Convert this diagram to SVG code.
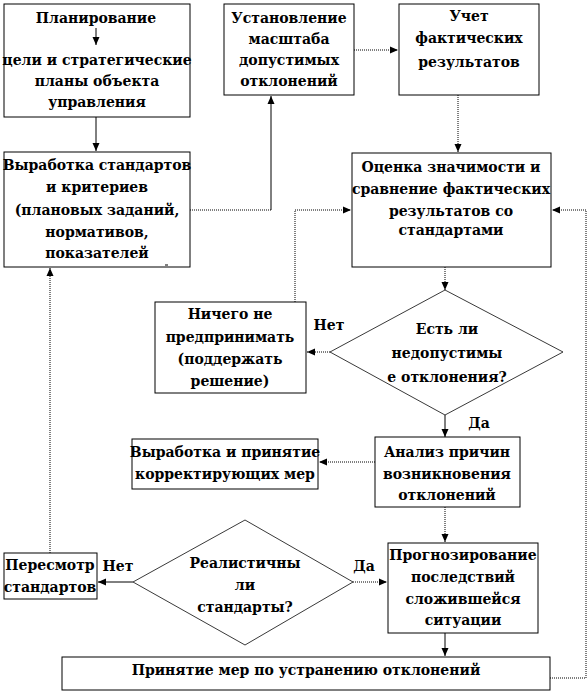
<svg xmlns="http://www.w3.org/2000/svg" width="587" height="694" viewBox="0 0 587 694">
<style>
.box{fill:#fff;stroke:#000;stroke-width:1}
.dia{fill:#fff;stroke:#222;stroke-width:0.9}
.t{font-family:"DejaVu Serif",serif;font-weight:bold;font-size:14px;fill:#000;text-anchor:middle}
.c{fill:none;stroke:#000;stroke-width:1}
.d{stroke-dasharray:1,1}
</style>
<defs>
<marker id="ah" viewBox="0 0 8 8" refX="8" refY="4" markerWidth="8" markerHeight="8" markerUnits="userSpaceOnUse" orient="auto">
<path d="M0,0.5 L8,4 L0,7.5 Z" fill="#000"/>
</marker>
</defs>
<rect width="587" height="694" fill="#fff"/>

<g id="connectors">
<path class="c" d="M96,117 V151" marker-end="url(#ah)"/>
<path class="c d" d="M190,210 H271"/>
<path class="c" d="M271,210 V96" marker-end="url(#ah)"/>
<path class="c d" d="M354,50 H398" marker-end="url(#ah)"/>
<path class="c d" d="M458,95 V152" marker-end="url(#ah)"/>
<path class="c d" d="M445,267 V290" marker-end="url(#ah)"/>
<path class="c d" d="M330,352 H307" marker-end="url(#ah)"/>
<path class="c d" d="M295,302 V210 H351" marker-end="url(#ah)"/>
<path class="c" d="M445,415 V437" marker-end="url(#ah)"/>
<path class="c d" d="M375,462 H319" marker-end="url(#ah)"/>
<path class="c d" d="M445,507 V542" marker-end="url(#ah)"/>
<path class="c" d="M133,582 H98" marker-end="url(#ah)"/>
<path class="c d" d="M50,553 V268" marker-end="url(#ah)"/>
<path class="c d" d="M353,582 H387" marker-end="url(#ah)"/>
<path class="c" d="M445,633 V656" marker-end="url(#ah)"/>
<path class="c d" d="M550,678 H586 V210 H552" marker-end="url(#ah)"/>
</g>

<g id="n-plan">
<rect class="box" x="4" y="4" width="186" height="113"/>
<text class="t" x="96" y="23">Планирование</text>
<path class="c" d="M96,28 V45" marker-end="url(#ah)"/>
<text class="t" x="97" y="65">цели и стратегические</text>
<text class="t" x="97" y="86">планы объекта</text>
<text class="t" x="97" y="107">управления</text>
</g>

<g id="n-standards">
<rect class="box" x="4" y="152" width="186" height="115"/>
<text class="t" x="97" y="170">Выработка стандартов</text>
<text class="t" x="97" y="192">и критериев</text>
<text class="t" x="97" y="215">(плановых заданий,</text>
<text class="t" x="97" y="237">нормативов,</text>
<text class="t" x="97" y="258">показателей</text>
<path d="M165,265 H168" stroke="#000" stroke-width="1"/>
</g>

<g id="n-scale">
<rect class="box" x="224" y="4" width="130" height="91"/>
<text class="t" x="289" y="23">Установление</text>
<text class="t" x="289" y="44">масштаба</text>
<text class="t" x="289" y="65">допустимых</text>
<text class="t" x="289" y="86">отклонений</text>
</g>

<g id="n-actual">
<rect class="box" x="399" y="4" width="140" height="91"/>
<text class="t" x="469" y="21">Учет</text>
<text class="t" x="469" y="43">фактических</text>
<text class="t" x="469" y="67">результатов</text>
</g>

<g id="n-evaluate">
<rect class="box" x="352" y="153" width="199" height="114"/>
<text class="t" x="451" y="172">Оценка значимости и</text>
<text class="t" x="451" y="194">сравнение фактических</text>
<text class="t" x="451" y="216">результатов со</text>
<text class="t" x="451" y="235">стандартами</text>
</g>

<g id="n-diamond1">
<polygon class="dia" points="445,290 563,352 445,415 330,352"/>
<text class="t" x="447" y="334">Есть ли</text>
<text class="t" x="447" y="358">недопустимы</text>
<text class="t" x="447" y="382">е отклонения?</text>
</g>

<g id="n-nothing">
<rect class="box" x="155" y="302" width="151" height="91"/>
<text class="t" x="230" y="319">Ничего не</text>
<text class="t" x="230" y="342">предпринимать</text>
<text class="t" x="230" y="364">(поддержать</text>
<text class="t" x="230" y="386">решение)</text>
</g>

<text class="t" x="329" y="330">Нет</text>
<text class="t" x="479" y="428">Да</text>

<g id="n-analysis">
<rect class="box" x="375" y="437" width="145" height="70"/>
<text class="t" x="447" y="457">Анализ причин</text>
<text class="t" x="447" y="479">возникновения</text>
<text class="t" x="447" y="500">отклонений</text>
</g>

<g id="n-corrective">
<rect class="box" x="132" y="439" width="186" height="50"/>
<text class="t" x="225" y="457">Выработка и принятие</text>
<text class="t" x="225" y="479">корректирующих мер</text>
</g>

<g id="n-forecast">
<rect class="box" x="388" y="543" width="150" height="90"/>
<text class="t" x="463" y="560">Прогнозирование</text>
<text class="t" x="463" y="582">последствий</text>
<text class="t" x="463" y="604">сложившейся</text>
<text class="t" x="463" y="625">ситуации</text>
</g>

<g id="n-diamond2">
<polygon class="dia" points="245,520 353,582 245,645 133,582"/>
<text class="t" x="245" y="568">Реалистичны</text>
<text class="t" x="245" y="590">ли</text>
<text class="t" x="245" y="612">стандарты?</text>
</g>

<text class="t" x="118" y="571">Нет</text>
<text class="t" x="364" y="571">Да</text>

<g id="n-revise">
<rect class="box" x="4" y="553" width="93" height="46"/>
<text class="t" x="50" y="570">Пересмотр</text>
<text class="t" x="50" y="592">стандартов</text>
</g>

<g id="n-eliminate">
<rect class="box" x="62" y="657" width="488" height="33"/>
<text class="t" x="306" y="675">Принятие мер по устранению отклонений</text>
</g>
</svg>
